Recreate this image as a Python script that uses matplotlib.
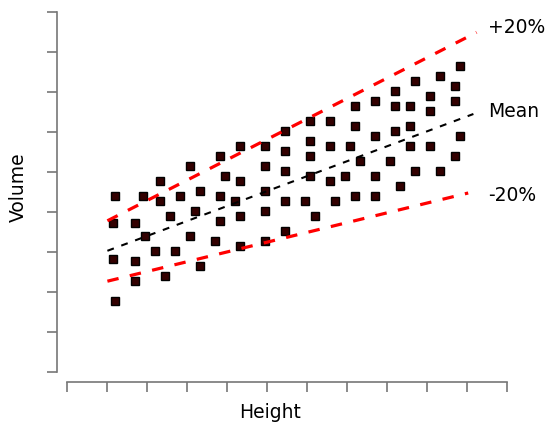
import matplotlib
matplotlib.use("Agg")
import matplotlib.pyplot as plt

# scatter points (Height, Volume)
height = [
    11.9, 11.6, 11.4, 11.9,
    17.1, 16.9, 17.1,
    19.1, 19.4,
    21.9,
    23.2, 23.2,
    24.4,
    25.7,
    26.9,
    28.2,
    30.7, 30.7,
    31.9,
    33.2, 33.2,
    36.9,
    38.2, 38.2, 38.2,
    39.4,
    41.9,
    43.2, 43.2, 43.2, 43.2,
    49.4, 49.4, 49.4, 49.4, 49.4,
    54.4, 54.4, 54.4, 54.4, 54.4,
    59.4,
    60.7, 60.7, 60.7, 60.7,
    61.9,
    65.7, 65.7, 65.7,
    66.9,
    69.4,
    70.7,
    71.9, 71.9, 71.9,
    73.2,
    76.9, 76.9, 76.9, 76.9,
    80.7,
    81.9, 81.9, 81.9,
    83.2,
    85.7, 85.7, 85.7,
    86.9, 86.9,
    90.7, 90.7, 90.7,
    93.2, 93.2,
    96.9, 96.9, 96.9,
    98.2, 98.2,
]
volume = [
    44.1, 37.3, 28.3, 17.8,
    37.3, 27.8, 22.8,
    44.1, 34.1,
    30.3,
    47.8, 42.8,
    24.1,
    39.1,
    30.3,
    44.1,
    51.6, 34.1,
    40.3,
    45.3, 26.6,
    32.8,
    54.1, 44.1, 37.8,
    49.1,
    42.8,
    56.6, 47.8, 39.1, 31.6,
    56.6, 51.6, 45.3, 40.3, 32.8,
    60.3, 55.3, 50.3, 42.8, 35.3,
    42.8,
    62.8, 57.8, 54.1, 49.1,
    39.1,
    62.8, 56.6, 47.8,
    42.8,
    49.1,
    56.6,
    66.6, 61.6, 44.1,
    52.8,
    67.8, 59.1, 49.1, 44.1,
    52.8,
    70.3, 66.6, 60.3,
    46.6,
    66.6, 61.6, 56.6,
    72.8, 50.3,
    69.1, 65.3, 56.6,
    74.1, 50.3,
    71.6, 67.8, 54.1,
    76.6, 59.1,
]

# reference lines: (x start, x end), (y start, y end)
mean_x = [10.1, 101.6]
mean_y = [30.3, 64.5]
upper_x = [10.1, 102.4]
upper_y = [37.8, 84.9]
lower_x = [10.1, 100.3]
lower_y = [22.7, 44.75]

line_labels = ["+20%", "Mean", "-20%"]
label_y = [86.3, 65.5, 44.3]

fig = plt.figure(figsize=(5.59, 4.35), dpi=100)
W, H = 559.0, 435.0
ax = fig.add_axes([57 / W, (H - 383) / H, (520 - 57) / W, (383 - 5) / H])

ax.plot(upper_x, upper_y, color="#ff0000", lw=2.3, ls=(0, (3.6, 3.6)),
        solid_capstyle="butt", dash_capstyle="butt", zorder=3)
ax.plot(lower_x, lower_y, color="#ff0000", lw=2.3, ls=(0, (3.6, 3.6)),
        dash_capstyle="butt", zorder=3)
ax.plot(mean_x, mean_y, color="black", lw=1.5, ls=(0, (3.3, 3.8)),
        dash_capstyle="butt", zorder=3)

ax.plot(height, volume, ls="none", marker="s", ms=6.2,
        mfc="#330000", mec="black", mew=1.0, zorder=2)

for txt, yy in zip(line_labels, label_y):
    ax.text(105.3, yy, txt, ha="left", va="center", fontsize=13.5,
            color="black", clip_on=False)

ax.set_xlim(-2.5, 113.25)
ax.set_ylim(-2.5, 92)
ax.set_xticks(range(0, 111, 10))
ax.set_yticks(range(0, 91, 10))
ax.set_xticklabels([])
ax.set_yticklabels([])

for side in ["top", "right"]:
    ax.spines[side].set_visible(False)
ax.spines["left"].set_bounds(0, 90)
ax.spines["bottom"].set_bounds(0, 110)
for side in ["left", "bottom"]:
    ax.spines[side].set_color("#777777")
    ax.spines[side].set_linewidth(1.2)
ax.tick_params(length=7, width=1.2, color="#777777", direction="out")

fig.text(18 / W, 1 - 187 / H, "Volume", rotation=90, ha="center",
         va="center", fontsize=13.5)
fig.text(270 / W, 1 - 413 / H, "Height", ha="center", va="center",
         fontsize=13.5)

fig.savefig("out.png", dpi=100)
